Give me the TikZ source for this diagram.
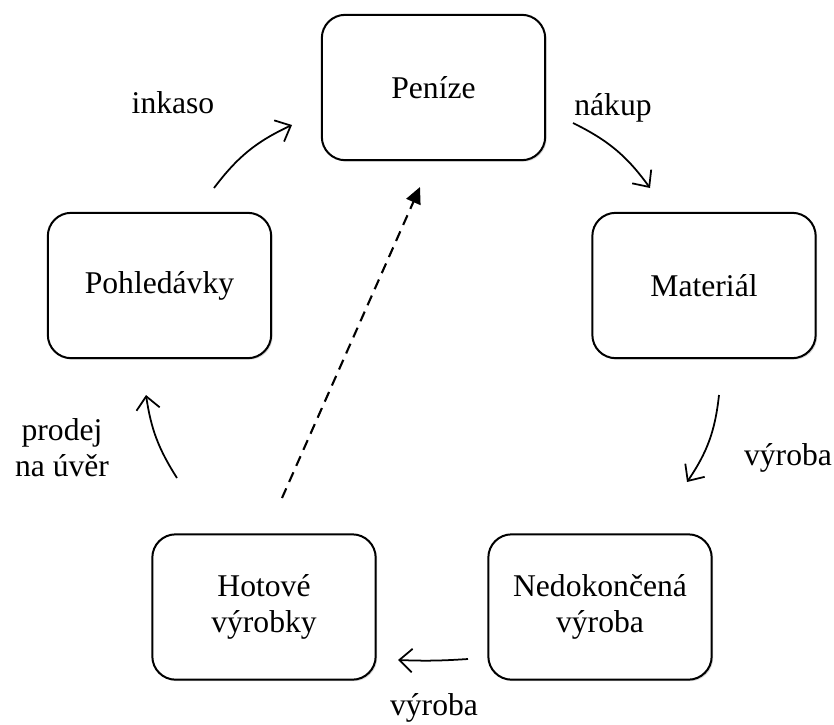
\documentclass[tikz,border=0pt]{standalone}
\usepackage{fontspec}
\setmainfont{Liberation Serif}
\usetikzlibrary{arrows.meta,shadows}
\tikzset{
  stage/.style={draw, line width=1.7pt, rounded corners=0.7cm, inner sep=0pt,
    align=center, fill=white, font=\fontsize{27}{31}\selectfont,
    minimum width=6.7cm, minimum height=4.36cm,
    drop shadow={shadow xshift=1.3pt, shadow yshift=-1.3pt, opacity=0.3}},
  caption/.style={inner sep=0pt, align=center, font=\fontsize{27}{31}\selectfont},
  flow/.style={line width=1.5pt,
    -{Straight Barb[length=11pt,width=20pt,line width=1.5pt]}},
  shortcut/.style={line width=1.8pt, dash pattern=on 9pt off 6pt,
    -{Triangle[length=14pt,width=13pt]}},
}
\begin{document}
\begin{tikzpicture}[x=0.03cm, y=-0.03cm]
  \path[use as bounding box] (0,0) rectangle (834,725);

  % stages of the cycle
  \node[stage] (penize) at (433.5,87.5) {Peníze};
  \node[stage] (material) at (704,285.5) {Materiál};
  \node[stage] (pohledavky) at (159.5,285.5) {Pohledávky};
  \node[stage] (nedokoncena) at (600,607) {Nedokončená\\výroba};
  \node[stage] (hotove) at (264,607) {Hotové\\výrobky};

  % arrow end points
  \coordinate (a1) at (214,188); \coordinate (b1) at (292,125);
  \coordinate (a2) at (573,123); \coordinate (b2) at (650,188);
  \coordinate (a3) at (719,395); \coordinate (b3) at (687,482);
  \coordinate (a4) at (468,659); \coordinate (b4) at (398,660);
  \coordinate (a5) at (177,478); \coordinate (b5) at (146,395);
  \coordinate (a6) at (282,498); \coordinate (b6) at (420,187);

  \draw[flow] (a1) to[bend left=14] (b1);
  \draw[flow] (a2) to[bend left=14] (b2);
  \draw[flow] (a3) to[bend left=14] (b3);
  \draw[flow] (a4) to[bend left=3] (b4);
  \draw[flow] (a5) to[bend left=12] (b5);
  \draw[shortcut] (a6) -- (b6);

  % flow labels
  \node[caption, anchor=base] (l1) at (173,113) {inkaso};
  \node[caption, anchor=base] (l2) at (613,115) {nákup};
  \node[caption, anchor=base] (l3) at (788,465) {výroba};
  \node[caption, anchor=base] (l4) at (434,715) {výroba};
  \node[caption] (l5) at (62,448) {prodej\\na úvěr};
\end{tikzpicture}
\end{document}
